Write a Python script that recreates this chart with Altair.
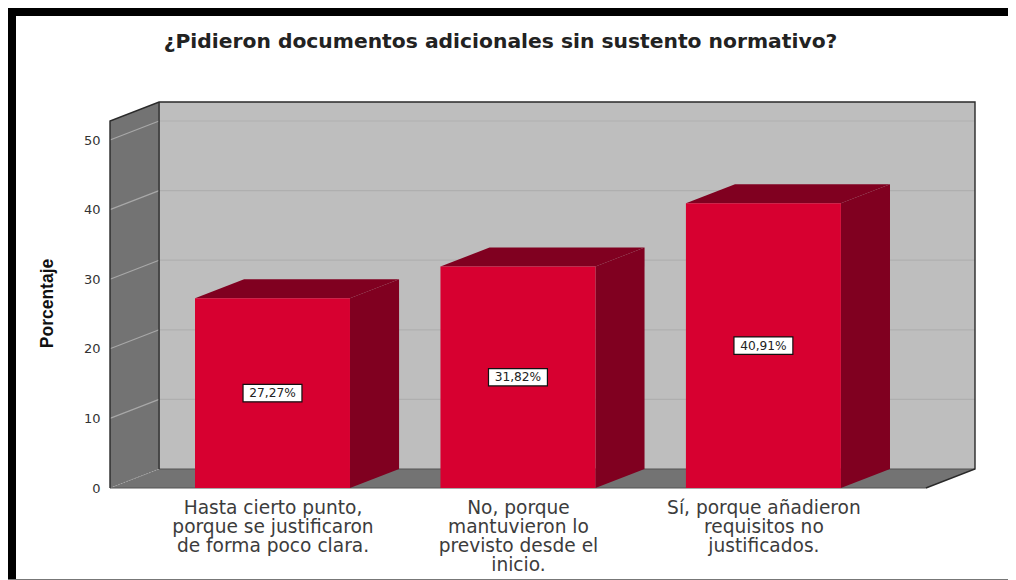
import altair as alt
import pandas as pd

title_text = "¿Pidieron documentos adicionales sin sustento normativo?"
categories = ["Hasta cierto punto,|porque se justificaron|de forma poco clara.",
              "No, porque|mantuvieron lo|previsto desde el|inicio.",
              "Sí, porque añadieron|requisitos no|justificados."]
positions = [0, 1, 2]
values = [27.27, 31.82, 40.91]
value_labels = ["27,27%", "31,82%", "40,91%"]
y_ticks = [0, 10, 20, 30, 40, 50]

X_MIN, X_MAX = -0.662, 2.862
Y_MAX = 55.46
DX, DY = 0.2, 2.73
HALF = 0.3157
FRONT_R = X_MAX - DX
FRONT_T = Y_MAX - DY
BOX_W, BOX_H = 0.12, 1.25

label_js = "[" + ",".join('"' + c + '"' for c in categories) + "]"
x_axis = alt.Axis(values=positions, labelExpr=f"split({label_js}[datum.value], '|')",
                  title=None, domain=False, ticks=False, grid=False, labelPadding=10,
                  labelFont="DejaVu Sans", labelFontSize=18.6, labelColor="#3C3C3C", labelLimit=400,
                  labelLineHeight=19.3, labelOverlap=False, labelFlush=False, labelBaseline="top")
y_axis = alt.Axis(values=y_ticks, title="Porcentaje", domain=False, ticks=False, grid=False,
                  labelPadding=10, labelFont="DejaVu Sans", labelFontSize=13, labelColor="#333333",
                  titleFont="Liberation Sans", titleFontSize=17.5, titleFontWeight="bold",
                  titleColor="#111111", titleX=-54, titleY=201)
x_scale = alt.Scale(domain=[X_MIN, X_MAX], nice=False, zero=False)
y_scale = alt.Scale(domain=[0, Y_MAX], nice=False, zero=False)


def X(f="x"):
    return alt.X(f"{f}:Q", scale=x_scale, axis=x_axis)


def Y(f="y"):
    return alt.Y(f"{f}:Q", scale=y_scale, axis=y_axis)


def face(rows, color):
    df = pd.DataFrame(rows, columns=["g", "x", "y", "y2"])
    return alt.Chart(df).mark_area(color=color, orient="vertical", interpolate="linear").encode(
        x=X(), y=Y(), y2="y2:Q", detail="g:N")


def lines(rows, color, width=1.0, dash=None):
    df = pd.DataFrame(rows, columns=["g", "x", "y"])
    kw = {"strokeDash": dash} if dash else {}
    return alt.Chart(df).mark_line(color=color, strokeWidth=width, **kw).encode(
        x=X(), y=Y(), detail="g:N", order="o:Q").transform_window(o="row_number()", groupby=["g"])


WALL_DARK, BACK = "#737373", "#BEBEBE"
RED, RED_DARK = "#D70030", "#800020"

left_wall = face([(0, X_MIN, FRONT_T, 0), (0, X_MIN + DX, Y_MAX, DY)], WALL_DARK)
back_wall = face([(0, X_MIN + DX, Y_MAX, DY), (0, X_MAX, Y_MAX, DY)], BACK)
floor = face([(0, X_MIN, 0, 0), (0, X_MIN + DX, DY, 0), (0, FRONT_R, DY, 0), (0, X_MAX, DY, DY)], WALL_DARK)

back_grid = lines([r for v in y_ticks[1:] for r in ((v, X_MIN + DX, v + DY), (v, X_MAX, v + DY))], "#AFAFAF", 1.2)
side_grid = lines([r for v in y_ticks[1:] for r in ((v, X_MIN, v), (v, X_MIN + DX, v + DY))], "#A8A8A8", 1.2)
zero_grid = lines([(0, X_MIN, 0), (0, X_MIN + DX, DY)], "#A8A8A8", 1.0, [1, 2])

edges_dark = lines([
    ("a", X_MIN, 0), ("a", X_MIN, FRONT_T), ("a", X_MIN + DX, Y_MAX), ("a", X_MAX, Y_MAX),
    ("a", X_MAX, DY), ("a", FRONT_R, 0),
    ("b", X_MIN + DX, Y_MAX), ("b", X_MIN + DX, DY),
], "#2A2A2A", 1.4)
edges_light = lines([
    ("c", X_MIN, 0), ("c", FRONT_R, 0),
    ("d", X_MIN + DX, DY), ("d", X_MAX, DY),
], "#555555", 1.2)

top_rows, side_rows = [], []
for p, v in zip(positions, values):
    x0, x1 = p - HALF, p + HALF
    top_rows += [(p, x0, v, v), (p, x0 + DX, v + DY, v), (p, x1, v + DY, v), (p, x1 + DX, v + DY, v + DY)]
    side_rows += [(p, x1, v, 0), (p, x1 + DX, v + DY, DY)]
tops = face(top_rows, RED_DARK)
sides = face(side_rows, RED_DARK)

bar_df = pd.DataFrame({"p": positions, "v": values, "label": value_labels})
bar_df["x0"] = bar_df.p - HALF
bar_df["x1"] = bar_df.p + HALF
bar_df["mid"] = bar_df.v / 2
bar_df["bx0"] = bar_df.p - BOX_W
bar_df["bx1"] = bar_df.p + BOX_W
bar_df["by0"] = bar_df.mid - BOX_H
bar_df["by1"] = bar_df.mid + BOX_H
zeros = bar_df.assign(z=0)

fronts = alt.Chart(zeros).mark_rect(color=RED).encode(
    x=X("x0"), x2="x1:Q", y=Y("v"), y2="z:Q")
boxes = alt.Chart(bar_df).mark_rect(fill="white", stroke="#111111", strokeWidth=1.2).encode(
    x=X("bx0"), x2="bx1:Q", y=Y("by0"), y2="by1:Q")
texts = alt.Chart(bar_df).mark_text(font="DejaVu Sans", fontSize=12.2, color="#222222").encode(
    x=X("p"), y=Y("mid"), text="label:N")

blank = pd.DataFrame({"k": [0]})
band_top = alt.Chart(blank).mark_rect(color="black").encode(
    x=alt.value(-102), x2=alt.value(898), y=alt.value(-94), y2=alt.value(-86))
band_left = alt.Chart(blank).mark_rect(color="black").encode(
    x=alt.value(-102), x2=alt.value(-94), y=alt.value(-94), y2=alt.value(478))
band_bottom = alt.Chart(blank).mark_rect(color="#777777").encode(
    x=alt.value(-102), x2=alt.value(898), y=alt.value(477), y2=alt.value(478))

chart = alt.layer(
    band_top, band_left, band_bottom,
    left_wall, floor, back_wall, back_grid, side_grid, zero_grid, edges_light, edges_dark,
    sides, tops, fronts, boxes, texts,
).properties(
    width=865, height=386,
    padding={"left": 102, "top": 94, "right": 33, "bottom": 92},
    autosize=alt.AutoSizeParams(type="none"),
    background="white",
    title=alt.TitleParams(title_text, font="DejaVu Sans", fontSize=20.3, fontWeight="bold",
                          color="#222222", anchor="middle", dx=-42, offset=0, dy=44, limit=900),
).configure_view(strokeWidth=0)

chart.save("out.html", embed_options={"renderer": "svg", "actions": False})
